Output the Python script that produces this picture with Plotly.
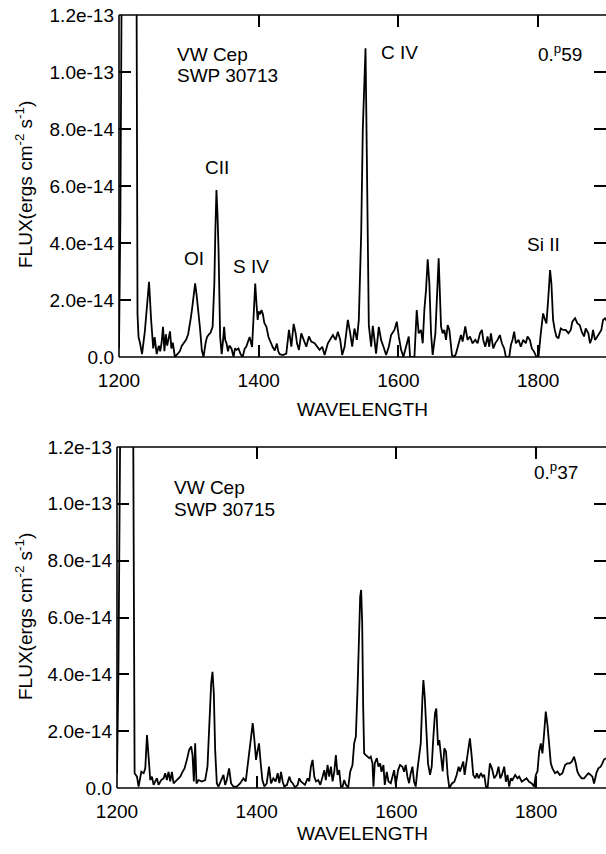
import numpy as np
import plotly.graph_objects as go

# ---------------- data (flux in units of 1e-14 erg cm^-2 s^-1) ----------------
top_wl = [1200, 1202, 1204, 1210, 1216, 1222, 1225, 1226.5, 1228, 1230, 1233, 1237, 1240, 1243,
          1246, 1249, 1251, 1254, 1257, 1259, 1261, 1263, 1265, 1267, 1269, 1271, 1273, 1275,
          1277, 1280, 1283, 1287, 1290, 1293, 1296, 1299, 1301, 1303, 1305, 1307, 1309, 1311,
          1313, 1316, 1318.6, 1321, 1324, 1326, 1329, 1331, 1334, 1336.5, 1338, 1339.5, 1341,
          1342.5, 1344.8, 1347, 1349, 1350.5, 1352, 1354, 1356, 1358, 1361, 1364, 1366, 1368,
          1371, 1374, 1377, 1380, 1382, 1385, 1387, 1390.5, 1393, 1395, 1397, 1398.5, 1400,
          1402, 1404, 1406, 1408, 1411, 1414, 1417, 1420, 1423, 1426, 1428, 1430,
          1434.8, 1439.5, 1443.3, 1446.7, 1450, 1452.9, 1454.8, 1457.6, 1460.9, 1464.3, 1468.1,
          1471.9, 1475.2, 1480, 1483.3, 1487.1, 1491, 1494.3, 1499, 1502.4, 1506.2, 1510,
          1513.3, 1516.7, 1519.5, 1522.9, 1527.6, 1531, 1533.8, 1537.1, 1540.5, 1543.3, 1546.7,
          1549, 1551, 1552.9, 1554.8, 1556, 1557.6, 1561, 1563.3, 1565.7, 1568, 1571.9, 1575.2,
          1578.6, 1582.4, 1586.2, 1589.5, 1594.3, 1597.6, 1600.5, 1603.8, 1607.1, 1611, 1614.8,
          1616.7, 1622.9, 1626.2, 1629, 1632.4, 1634.8, 1637.1, 1639.5, 1641.9, 1644.3, 1646.7,
          1649, 1652.9, 1655.2, 1657.6, 1661, 1663.3, 1665.7, 1668.1, 1670.5, 1672.9, 1676.7,
          1680, 1682.4, 1684.8, 1687.1, 1689.5, 1691.9, 1695.7, 1699, 1702.4, 1706.2, 1710,
          1713.3, 1716.7, 1719.5, 1721.4, 1724.3, 1727.6, 1730, 1732.4, 1735.7, 1738.6, 1741.9,
          1745.2, 1748.1, 1751.4, 1753.8, 1758.6, 1761, 1763.3, 1765.7, 1768.1, 1771.9, 1775.2,
          1778.6, 1782.4, 1784.8, 1788.1, 1791, 1794.3, 1797.6, 1800.5, 1803.8, 1807.1, 1810,
          1811.9, 1814.3, 1817.1, 1819, 1821.4, 1823.8, 1826.2, 1829, 1832.4, 1835.7, 1839.5,
          1843.3, 1846.7, 1849, 1852.9, 1856.2, 1859.5, 1862.4, 1865.7, 1868.1, 1871.9, 1874.3,
          1876.7, 1878.6, 1881.4, 1884.8, 1887.1, 1890.5, 1892.9, 1895.7, 1900]
top_flux = [0.3, 5.0, 14.0, 22.0, 26.0, 22.0, 14.0, 1.5, 0.7, 0.5, 0.1, 0.9, 1.8, 2.64,
            1.3, 0.3, 0.7, 0.1, 0.4, 0.2, 0.5, 1.06, 0.2, 0.8, 0.4, 0.7, 0.9, 0.3,
            0.5, 0.0, 0.1, 0.2, 0.4, 0.5, 0.6, 0.8, 1.06, 1.4, 1.77, 2.3, 2.58, 2.2,
            1.77, 1.0, 0.23, 0.0, 0.5, 0.7, 0.8, 0.85, 1.06, 2.6, 4.5, 5.86, 5.0,
            3.75, 0.7, 0.1, 0.6, 1.06, 0.6, 0.47, 0.2, 0.4, 0.3, 0.0, 0.3, 0.25,
            0.3, 0.1, 0.0, 0.3, 0.35, 0.6, 0.7, 0.35, 1.4, 2.58, 1.8, 1.3, 1.6,
            1.5, 1.65, 1.5, 1.2, 1.06, 0.7, 0.5, 0.35, 0.23, 0.47, 0.2, 0.1,
            0.07, 0.12, 0.95, 0.36, 1.16, 0.83, 0.48, 0.25, 0.83, 0.6, 0.36,
            0.72, 0.54, 0.48, 0.36, 0.25, 0.36, 0.07, 0.48, 0.6, 0.77, 0.6,
            0.89, 0.6, 0.07, 0.36, 1.3, 0.83, 0.36, 1.0, 0.6, 1.3, 4.34,
            8.0, 10.0, 10.83, 7.0, 4.34, 1.12, 0.36, 1.09, 0.6, 0.12, 1.06, 0.6,
            0.36, 0.07, 0.36, 0.77, 0.95, 1.24, 0.72, 0.25, 0.01, 0.36, 0.72,
            0.0, 0.0, 1.65, 0.83, 0.95, 0.48, 1.65, 2.35, 3.43, 2.58, 0.83,
            0.07, 0.83, 2.23, 3.46, 1.07, 0.83, 0.95, 0.6, 1.12, 0.95, 0.06,
            0.0, 0.12, 0.36, 0.6, 0.77, 0.54, 1.07, 0.6, 0.72, 0.48, 0.6,
            0.48, 0.83, 0.95, 0.6, 0.36, 0.72, 0.36, 0.83, 0.3, 0.48, 0.6,
            0.77, 0.48, 0.3, 0.0, 0.0, 0.42, 0.6, 0.89, 0.48, 0.6, 0.36,
            0.6, 0.48, 0.72, 0.6, 0.3, 0.18, 0.0, 0.0, 0.83, 1.53, 1.3,
            1.18, 2.0, 3.05, 2.58, 1.3, 0.95, 0.72, 0.65, 1.0, 0.95, 0.95,
            0.83, 0.95, 1.24, 1.36, 1.18, 1.12, 0.89, 0.72, 1.0, 0.83, 0.48,
            0.65, 0.95, 0.6, 0.72, 0.83, 0.95, 1.3, 1.36, 1.2]

bot_wl = [1200, 1202, 1205, 1212, 1219, 1223, 1225.2, 1228.6, 1230.9, 1234.8, 1238.1, 1240.5,
          1242.9, 1245.2, 1247.6, 1250, 1252.4, 1254.8, 1257.1, 1259.5, 1263.3, 1266.7, 1269,
          1271.4, 1273.8, 1276.2, 1278.6, 1281, 1285.7, 1290.5, 1293.8, 1296.7, 1300, 1303.3,
          1306.2, 1308.1, 1310, 1311.9, 1313.8, 1316.7, 1321.4, 1326.2, 1329.5, 1331.9, 1334.8,
          1336.7, 1338.6, 1340.5, 1342.9, 1345.2, 1349, 1352.4, 1354.8, 1357.1, 1360.5, 1363.3,
          1366.7, 1371.4, 1376.2, 1381, 1384.3, 1388.1, 1391.9, 1394.3, 1396.7, 1399, 1401.4,
          1403.3, 1405.7, 1408.1, 1411, 1414.3, 1417.6, 1420.5, 1423.8, 1427.1, 1430, 1432.4,
          1434.8, 1437.1, 1439.5, 1443.3, 1446.7, 1449, 1451.4, 1454.8, 1458.6, 1460.9, 1463.3,
          1465.7, 1469, 1472.9, 1475.2, 1477.6, 1480, 1482.4, 1484.8, 1488.1, 1491, 1494.3,
          1496.7, 1499, 1501.4, 1503.8, 1506.2, 1508.6, 1511, 1513.3, 1515.7, 1518.1, 1520.5,
          1522.9, 1525.2, 1527.6, 1531, 1533.8, 1537.1, 1539.5, 1541.9, 1544.3, 1546.7, 1548.1,
          1549.5, 1551, 1552.4, 1553.8, 1556.2, 1558.6, 1561, 1563.3, 1565.7, 1567.1, 1569,
          1571.9, 1574.3, 1576.7, 1578.6, 1581.4, 1583.3, 1586.2, 1588.6, 1591.9, 1594.3, 1596.7,
          1599, 1602.4, 1605.2, 1608.6, 1611, 1613.3, 1615.7, 1618.1, 1620.5, 1622.9, 1625.2,
          1627.6, 1630, 1632.4, 1634.8, 1637.1, 1638.6, 1640.5, 1642.9, 1645.2, 1648.1, 1650.5,
          1652.9, 1655.2, 1657.1, 1659.5, 1661.4, 1663.8, 1666.2, 1668.6, 1671, 1673.3, 1675.7,
          1679.5, 1682.9, 1686.2, 1689, 1691, 1693.8, 1695.7, 1697.6, 1699.5, 1701.9, 1705.2,
          1707.6, 1710, 1712.9, 1715.2, 1717.6, 1721, 1723.3, 1725.7, 1728.1, 1730.5, 1733.8,
          1736.7, 1740, 1743.3, 1746.2, 1748.6, 1751, 1754.3, 1756.7, 1759, 1761.4, 1763.8,
          1766.2, 1770, 1773.3, 1775.7, 1779.5, 1782.9, 1786.2, 1790, 1793.8, 1797.1, 1799.5,
          1801.9, 1804.3, 1806.7, 1809, 1811.4, 1813.8, 1816.2, 1818.6, 1821, 1823.3, 1827.1,
          1830.5, 1833.8, 1837.6, 1841.4, 1844.8, 1848.1, 1851, 1854.3, 1856.7, 1859, 1861.4,
          1865.2, 1868.6, 1871, 1874.8, 1878.1, 1880.5, 1882.9, 1886.2, 1889, 1892.4, 1894.8,
          1897.1, 1900]
bot_flux = [0.5, 4.0, 14.0, 25.0, 25.0, 14.0, 0.52, 0.40, 0.05, 0.57, 0.52, 0.69,
            1.86, 1.10, 0.28, 0.40, 0.11, 0.23, 0.34, 0.11, 0.28, 0.34, 0.52,
            0.28, 0.57, 0.23, 0.57, 0.16, 0.28, 0.40, 0.57, 0.69, 0.99, 1.34,
            1.46, 1.16, 0.23, 1.57, 0.16, 0.28, 0.23, 0.28, 0.75, 2.28, 3.68,
            4.09, 3.33, 1.34, 0.16, 0.05, 0.28, 0.46, 0.11, 0.28, 0.69, 0.16,
            0.05, 0.05, 0.16, 0.34, 0.23, 0.99, 1.63, 2.28, 1.69, 0.99, 1.34,
            1.57, 0.87, 0.28, 0.05, 0.16, 0.75, 0.16, 0.34, 0.23, 0.52, 0.17,
            0.57, 0.23, 0.05, 0.11, 0.40, 0.23, 0.17, 0.02, 0.11, 0.34, 0.23,
            0.17, 0.11, 0.34, 0.23, 0.75, 0.99, 0.40, 0.23, 0.28, 0.11, 0.40,
            0.63, 0.28, 0.81, 0.40, 0.75, 0.23, 0.57, 1.16, 0.46, 0.63, 0.05,
            0.05, 0.28, 0.11, 0.02, 0.57, 0.81, 1.57, 1.81, 3.45, 5.79, 6.73,
            6.97, 5.79, 2.86, 1.22, 1.16, 1.10, 1.05, 1.10, 0.87, 0.05, 0.87,
            1.05, 0.75, 0.87, 0.57, 0.81, 0.11, 0.57, 0.23, 0.17, 0.40, 0.63,
            0.11, 0.63, 0.81, 0.75, 0.57, 0.81, 0.40, 0.17, 0.52, 0.75, 0.23,
            0.05, 0.63, 1.10, 1.57, 3.10, 3.80, 3.22, 1.92, 0.87, 0.46, 0.75,
            1.81, 2.63, 2.80, 1.50, 1.69, 1.00, 0.58, 1.40, 1.28, 0.46, 0.00,
            0.16, 0.22, 0.46, 0.75, 0.58, 0.81, 0.93, 0.46, 0.81, 1.16, 1.75,
            1.16, 0.46, 0.34, 0.52, 0.34, 0.52, 0.40, 0.46, 0.05, 0.00, 0.87,
            0.69, 0.34, 0.46, 0.75, 0.34, 0.46, 0.75, 0.22, 0.46, 0.05, 0.34,
            0.28, 0.46, 0.34, 0.40, 0.22, 0.28, 0.34, 0.22, 0.16, 0.05, 0.46,
            0.58, 1.28, 1.57, 1.22, 1.92, 2.69, 2.22, 1.63, 0.87, 0.69, 0.52,
            0.58, 0.46, 0.52, 0.81, 0.87, 0.87, 0.93, 1.10, 0.87, 0.58, 0.46,
            0.34, 0.34, 0.40, 0.52, 0.46, 0.40, 0.16, 0.52, 0.69, 0.75, 0.87,
            1.00, 1.05]

x_tickvals = [1200, 1400, 1600, 1800]
x_ticktext = ["1200", "1400", "1600", "1800"]
y_tickvals = [0, 2e-14, 4e-14, 6e-14, 8e-14, 1.0e-13, 1.2e-13]
y_ticktext = ["0.0", "2.0e-14", "4.0e-14", "6.0e-14", "8.0e-14", "1.0e-13", "1.2e-13"]

# label text and its position on the screen (px) as seen in the reference
top_labels = [("VW Cep", 175, 55, "left"), ("SWP 30713", 175, 76, "left"),
              ("CII", 217, 167, "center"), ("OI", 194, 258, "center"),
              ("S IV", 251, 266, "center"), ("C IV", 399, 53, "center"),
              ("0.<sup>p</sup>59", 560, 53, "center"), ("Si II", 543, 244, "center")]
bot_labels = [("VW Cep", 172, 487, "left"), ("SWP 30715", 172, 509, "left"),
              ("0.<sup>p</sup>37", 556, 471, "center")]

# ---------------- figure ----------------
W, H = 606, 854
FONT = "Liberation Sans, Arial, sans-serif"
FS = 19
LW = 1.6

def px2x(px):
    return px / W

def py2y(py):
    return 1 - py / H

fig = go.Figure()
fig.add_trace(go.Scatter(x=top_wl, y=np.array(top_flux) * 1e-14, mode="lines",
                         line=dict(color="black", width=1.8), xaxis="x", yaxis="y",
                         showlegend=False))
fig.add_trace(go.Scatter(x=bot_wl, y=np.array(bot_flux) * 1e-14, mode="lines",
                         line=dict(color="black", width=1.8), xaxis="x2", yaxis="y2",
                         showlegend=False))

# axis lines drawn as shapes (left, top, bottom); the right frame edge lies
# just outside the 606 px window in the scan, only its inward ticks are visible
axis_common = dict(showline=False, mirror="ticks",
                   ticks="inside", ticklen=12, tickwidth=LW, tickcolor="black",
                   showgrid=False, zeroline=False, automargin=False,
                   ticklabeloverflow="allow",
                   tickfont=dict(family=FONT, size=FS, color="black"))

fig.update_layout(
    width=W, height=H, margin=dict(l=0, r=0, t=0, b=0, pad=0, autoexpand=False),
    paper_bgcolor="white", plot_bgcolor="white", showlegend=False,
    xaxis=dict(domain=[px2x(119), 1.0], range=[1200, 1200 + (W + 1 - 119) / 0.7],
               tickvals=x_tickvals, ticktext=x_ticktext, anchor="y",
               ticklabelstandoff=10, **axis_common),
    yaxis=dict(domain=[py2y(357), py2y(15)], range=[0, 1.2e-13],
               tickvals=y_tickvals, ticktext=y_ticktext, anchor="x",
               ticklabelstandoff=4, **axis_common),
    xaxis2=dict(domain=[px2x(117), 1.0], range=[1200, 1200 + (W + 1 - 117) / 0.7],
                tickvals=x_tickvals, ticktext=x_ticktext, anchor="y2",
                ticklabelstandoff=10, **axis_common),
    yaxis2=dict(domain=[py2y(788), py2y(447)], range=[0, 1.2e-13],
                tickvals=y_tickvals, ticktext=y_ticktext, anchor="x2",
                ticklabelstandoff=4, **axis_common),
)

shapes = []
for xa, ya in (("x", "y"), ("x2", "y2")):
    xr, yr = xa + " domain", ya + " domain"
    line = dict(color="black", width=LW)
    shapes.append(dict(type="line", xref=xr, yref=yr, x0=0, x1=0, y0=0, y1=1, line=line))
    shapes.append(dict(type="line", xref=xr, yref=yr, x0=0, x1=1.01, y0=0, y1=0, line=line))
    shapes.append(dict(type="line", xref=xr, yref=yr, x0=0, x1=1.01, y0=1, y1=1, line=line))
fig.update_layout(shapes=shapes)

annots = []
for txt, x, y, al in top_labels + bot_labels:
    annots.append(dict(text=txt, x=px2x(x), y=py2y(y), xref="paper", yref="paper",
                       xanchor=al, yanchor="middle", showarrow=False,
                       font=dict(family=FONT, size=FS, color="black")))
for y in (409, 833):
    annots.append(dict(text="WAVELENGTH", x=px2x(362), y=py2y(y), xref="paper", yref="paper",
                       xanchor="center", yanchor="middle", showarrow=False,
                       font=dict(family=FONT, size=FS, color="black")))
for y in (185, 617):
    annots.append(dict(text="FLUX(ergs cm<sup>-2</sup> s<sup>-1</sup>)", x=px2x(24), y=py2y(y),
                       xref="paper", yref="paper", xanchor="center", yanchor="middle",
                       textangle=-90, showarrow=False,
                       font=dict(family=FONT, size=FS, color="black")))
fig.update_layout(annotations=annots)

fig.write_html("out.html", config={"displayModeBar": False},
               post_script="document.body.style.margin='0';"
                           "document.body.style.overflow='hidden';")
